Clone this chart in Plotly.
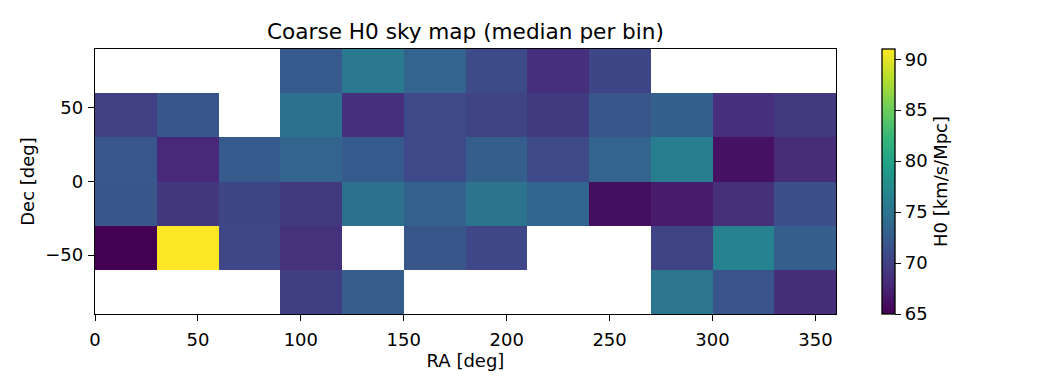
import plotly.graph_objects as go

ra_edges = [0, 30, 60, 90, 120, 150, 180, 210, 240, 270, 300, 330, 360]
dec_edges = [-90, -60, -30, 0, 30, 60, 90]
N = None
h0_dec_m90 = [N, N, N, 69.9, 72.6, N, N, N, N, 75.2, 71.8, 68.4]
h0_dec_m60 = [65.0, 91.0, 70.6, 68.8, N, 72.0, 70.6, N, N, 70.3, 76.6, 72.8]
h0_dec_m30 = [72.0, 69.3, 70.5, 69.4, 74.7, 73.2, 74.9, 73.4, 66.0, 67.0, 68.6, 71.3]
h0_dec_0 = [72.2, 68.0, 72.4, 73.3, 72.4, 70.8, 72.7, 70.8, 73.3, 76.1, 66.2, 68.2]
h0_dec_30 = [70.0, 72.0, N, 74.7, 68.5, 70.8, 70.3, 69.5, 72.0, 72.9, 68.5, 69.5]
h0_dec_60 = [N, N, N, 72.4, 75.6, 73.3, 71.0, 68.5, 70.5, N, N, N]
x_ticks = [0, 50, 100, 150, 200, 250, 300, 350]
y_ticks = [-50, 0, 50]
cbar_ticks = [65, 70, 75, 80, 85, 90]

font = "DejaVu Sans"
TICK = 18
fig = go.Figure(go.Heatmap(
    x=ra_edges, y=dec_edges,
    z=[h0_dec_m90, h0_dec_m60, h0_dec_m30, h0_dec_0, h0_dec_30, h0_dec_60],
    zmin=65, zmax=91, colorscale="Viridis", hoverongaps=False,
    colorbar=dict(
        title=dict(text="H0 [km/s/Mpc]", side="right", font=dict(size=TICK, family=font, color="black")),
        tickvals=cbar_ticks, ticks="outside", ticklen=6, tickwidth=1.3, tickcolor="black",
        tickprefix="\u00a0",
        tickfont=dict(size=TICK, family=font, color="black"),
        outlinecolor="black", outlinewidth=1.3,
        thickness=13, thicknessmode="pixels",
        len=1, lenmode="fraction", x=(882 - 87 - 8) / 741, xanchor="left", xref="paper",
        y=0, yanchor="bottom", ypad=0, xpad=0,
    ),
))
axis = dict(showgrid=False, zeroline=False, showline=True, mirror=True, linecolor="black", linewidth=1.3,
            ticks="outside", ticklen=6, tickwidth=1.3, tickcolor="black",
            tickfont=dict(size=TICK, family=font, color="black"))
fig.update_xaxes(range=[0, 360], tickvals=x_ticks, ticklabelstandoff=3,
                 title=dict(text="RA [deg]", font=dict(size=TICK, family=font, color="black"), standoff=5), **axis)
fig.update_yaxes(range=[-90, 90], tickvals=y_ticks, tickformat="d", ticklabelstandoff=1,
                 title=dict(text="Dec [deg]", font=dict(size=TICK, family=font, color="black"), standoff=5), **axis)
fig.update_layout(
    width=1032, height=382, autosize=False,
    margin=dict(l=87, r=204, t=41, b=76),
    paper_bgcolor="white", plot_bgcolor="white",
    title=dict(text="Coarse H0 sky map (median per bin)", font=dict(size=21.6, family=font, color="black"),
               x=457.5 / 1032, xanchor="center", y=1 - 23 / 382, yanchor="middle"),
)
fig.write_html("out.html")
